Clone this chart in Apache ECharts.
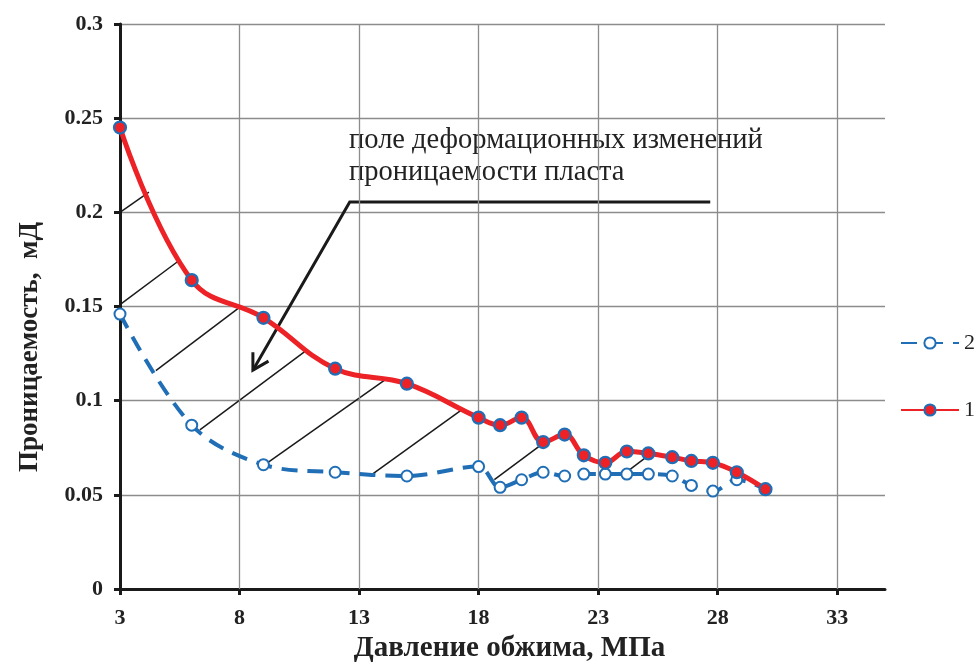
<!DOCTYPE html>
<html>
<head>
<meta charset="utf-8">
<script src="https://cdn.jsdelivr.net/npm/echarts@6/dist/echarts.min.js"></script>
<style>
html,body{margin:0;padding:0;background:#fff;}
#chart{width:979px;height:668px;}
</style>
</head>
<body>
<div id="chart"></div>
<script>
// ---- data ----
const pressure = [3, 6, 9, 12, 15, 18, 18.9, 19.8, 20.7, 21.6, 22.4, 23.3, 24.2, 25.1, 26.1, 26.9, 27.8, 28.8, 30];
const perm1 = [0.245, 0.164, 0.144, 0.117, 0.109, 0.091, 0.087, 0.091, 0.078, 0.082, 0.071, 0.067, 0.073, 0.072, 0.070, 0.068, 0.067, 0.062, 0.053];
const perm2 = [0.146, 0.087, 0.066, 0.062, 0.060, 0.065, 0.054, 0.058, 0.062, 0.060, 0.061, 0.061, 0.061, 0.061, 0.060, 0.055, 0.052, 0.058, 0.053];
const seriesNames = ['2', '1'];
const xTicks = [3, 8, 13, 18, 23, 28, 33];
// hatching of the deformation field (data coordinates)
const hatchFrom = [[3, 0.200], [3, 0.151], [4.5, 0.116], [6.34, 0.0845], [9.06, 0.066], [13.53, 0.0607], [18.66, 0.0581], [24.05, 0.0607]];
const hatchTo = [[4.21, 0.2107], [5.46, 0.1743], [7.93, 0.1489], [10.81, 0.1268], [14.07, 0.1109], [17.29, 0.0951], [20.84, 0.0787], [25.26, 0.0724]];
// annotation leader with arrow (data coordinates)
const arrowPath = [[27.69, 0.2055], [12.61, 0.2055], [8.56, 0.1162]];
const annotationLines = ['поле деформационных изменений', 'проницаемости пласта'];
const xTitle = 'Давление обжима, МПа';
const yTitle = 'Проницаемость,  мД';

const RED = '#EC2227';
const BLUE = '#1F6EB6';
const GRID = '#8c8c8c';
const INK = '#1a1a1a';
const SERIF = '"Liberation Serif", "Times New Roman", serif';

const chart = echarts.init(document.getElementById('chart'), null, {renderer: 'canvas'});

const pts1 = pressure.map((x, i) => [x, perm1[i]]);
const pts2 = pressure.map((x, i) => [x, perm2[i]]);

chart.setOption({
  animation: false,
  backgroundColor: '#fff',
  grid: {left: 120, top: 24, right: 94, bottom: 76, containLabel: false, show: false},
  legend: {
    data: seriesNames, orient: 'vertical', left: 895, top: 327,
    itemWidth: 58, itemHeight: 14, itemGap: 45,
    textStyle: {fontFamily: SERIF, fontSize: 22, color: '#222'}
  },
  xAxis: {
    type: 'value', min: 3, max: 35, interval: 5,
    name: xTitle, nameLocation: 'middle', nameGap: 45,
    nameTextStyle: {fontFamily: SERIF, fontSize: 29, fontWeight: 'bold', color: '#222', padding: [0, 0, 0, 14]},
    axisLine: {show: true, lineStyle: {color: INK, width: 3}},
    axisTick: {show: true, length: 6, customValues: xTicks, lineStyle: {color: INK, width: 3}},
    axisLabel: {fontFamily: SERIF, fontSize: 22, fontWeight: 'bold', color: '#222', margin: 18, customValues: xTicks},
    splitLine: {show: false}
  },
  yAxis: {
    type: 'value', min: 0, max: 0.3, interval: 0.05,
    axisLine: {show: true, lineStyle: {color: INK, width: 3}},
    axisTick: {show: true, length: 6, lineStyle: {color: INK, width: 3}},
    axisLabel: {fontFamily: SERIF, fontSize: 22, fontWeight: 'bold', color: '#222', margin: 17},
    splitLine: {show: true, lineStyle: {color: GRID, width: 1.3}}
  },
  graphic: [
    {type: 'text', left: 349, top: 125, silent: true,
      style: {text: annotationLines.join('\n'), font: '28.5px ' + SERIF, fill: '#222', lineHeight: 32}},
    {type: 'text', x: 30, y: 347, rotation: Math.PI / 2, silent: true,
      style: {text: yTitle, font: 'bold 27px ' + SERIF, fill: '#222', align: 'center', verticalAlign: 'middle'}}
  ],
  series: [
    {
      // vertical grid lines at the x ticks
      type: 'line', data: [], silent: true, z: 1,
      markLine: {
        silent: true, symbol: ['none', 'none'], label: {show: false},
        lineStyle: {color: GRID, width: 1.3, type: 'solid'}, emphasis: {disabled: true},
        data: xTicks.slice(1).map(v => ({xAxis: v}))
      }
    },
    {
      type: 'lines', coordinateSystem: 'cartesian2d', silent: true, z: 3, symbol: 'none',
      lineStyle: {color: INK, width: 1.5, opacity: 1, curveness: 0},
      data: hatchFrom.map((p, i) => ({coords: [p, hatchTo[i]]}))
    },
    {
      type: 'custom', coordinateSystem: 'cartesian2d', silent: true, z: 4, clip: false,
      data: [arrowPath[arrowPath.length - 1]],
      renderItem: function (params, api) {
        const p = arrowPath.map(c => api.coord(c));
        const tip = p[p.length - 1], prev = p[p.length - 2];
        const dx = prev[0] - tip[0], dy = prev[1] - tip[1];
        const len = Math.sqrt(dx * dx + dy * dy);
        const ux = dx / len, uy = dy / len;
        const a = Math.PI / 6, L = 18;
        const w1 = [tip[0] + L * (ux * Math.cos(a) - uy * Math.sin(a)), tip[1] + L * (ux * Math.sin(a) + uy * Math.cos(a))];
        const w2 = [tip[0] + L * (ux * Math.cos(-a) - uy * Math.sin(-a)), tip[1] + L * (ux * Math.sin(-a) + uy * Math.cos(-a))];
        return {
          type: 'group',
          children: [
            {type: 'polyline', shape: {points: p}, style: {stroke: INK, lineWidth: 3, fill: null}},
            {type: 'polyline', shape: {points: [w1, tip, w2]}, style: {stroke: INK, lineWidth: 3, fill: null}}
          ]
        };
      }
    },
    {
      name: '2', type: 'line', data: pts2, smooth: 0.35, z: 5,
      symbol: 'emptyCircle', symbolSize: 11, color: BLUE,
      lineStyle: {color: BLUE, width: 4, type: [16, 10]},
      itemStyle: {color: BLUE, borderColor: BLUE, borderWidth: 2.2}
    },
    {
      name: '1', type: 'line', data: pts1, smooth: 0.4, z: 6,
      symbol: 'circle', symbolSize: 12, color: RED,
      lineStyle: {color: RED, width: 5},
      itemStyle: {color: RED, borderColor: BLUE, borderWidth: 2.2}
    }
  ]
});
</script>
</body>
</html>
